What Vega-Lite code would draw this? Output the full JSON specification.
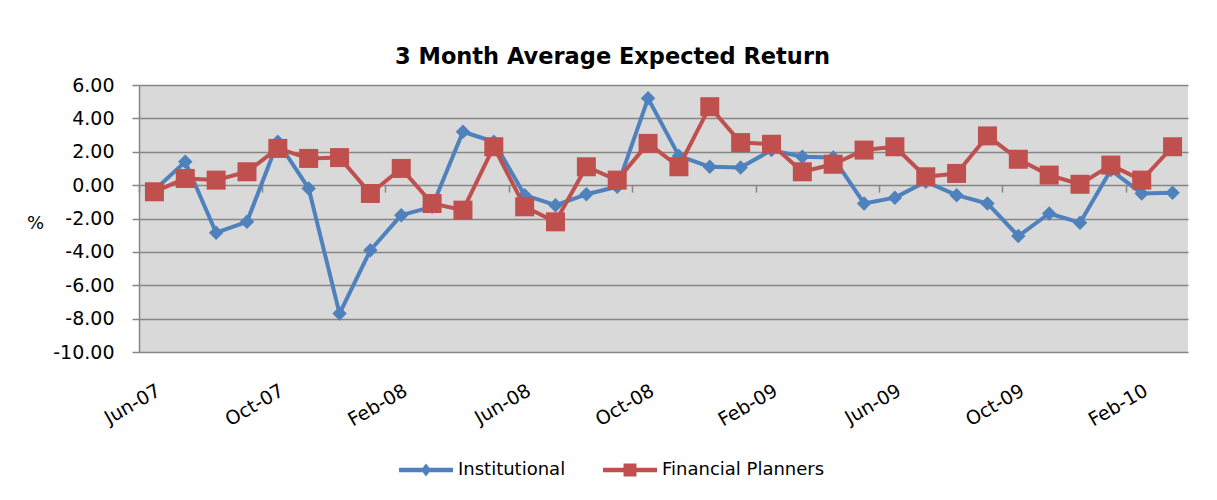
{
  "$schema": "https://vega.github.io/schema/vega-lite/v6.json",
  "width": 1049,
  "height": 267,
  "autosize": "none",
  "padding": {"left": 139, "top": 85, "right": 29, "bottom": 148},
  "background": "white",
  "config": {
    "font": "DejaVu Sans",
    "view": {"fill": "#D9D9D9", "stroke": null}
  },
  "title": {
    "text": "3 Month Average Expected Return",
    "font": "DejaVu Sans",
    "fontSize": 22.5,
    "fontWeight": "bold",
    "color": "#000000",
    "anchor": "middle",
    "frame": "group",
    "baseline": "alphabetic",
    "offset": -10,
    "dx": -51
  },
  "data": {
    "values": [
      {"m": "Jun-07", "s": "Institutional", "v": -0.3},
      {"m": "Jul-07", "s": "Institutional", "v": 1.4},
      {"m": "Aug-07", "s": "Institutional", "v": -2.85},
      {"m": "Sep-07", "s": "Institutional", "v": -2.2},
      {"m": "Oct-07", "s": "Institutional", "v": 2.6},
      {"m": "Nov-07", "s": "Institutional", "v": -0.2},
      {"m": "Dec-07", "s": "Institutional", "v": -7.7},
      {"m": "Jan-08", "s": "Institutional", "v": -3.9},
      {"m": "Feb-08", "s": "Institutional", "v": -1.8},
      {"m": "Mar-08", "s": "Institutional", "v": -1.3},
      {"m": "Apr-08", "s": "Institutional", "v": 3.2},
      {"m": "May-08", "s": "Institutional", "v": 2.6},
      {"m": "Jun-08", "s": "Institutional", "v": -0.6},
      {"m": "Jul-08", "s": "Institutional", "v": -1.2},
      {"m": "Aug-08", "s": "Institutional", "v": -0.55},
      {"m": "Sep-08", "s": "Institutional", "v": -0.1},
      {"m": "Oct-08", "s": "Institutional", "v": 5.2},
      {"m": "Nov-08", "s": "Institutional", "v": 1.75},
      {"m": "Dec-08", "s": "Institutional", "v": 1.1},
      {"m": "Jan-09", "s": "Institutional", "v": 1.05},
      {"m": "Feb-09", "s": "Institutional", "v": 2.1},
      {"m": "Mar-09", "s": "Institutional", "v": 1.7},
      {"m": "Apr-09", "s": "Institutional", "v": 1.65},
      {"m": "May-09", "s": "Institutional", "v": -1.1},
      {"m": "Jun-09", "s": "Institutional", "v": -0.75},
      {"m": "Jul-09", "s": "Institutional", "v": 0.2},
      {"m": "Aug-09", "s": "Institutional", "v": -0.6},
      {"m": "Sep-09", "s": "Institutional", "v": -1.1},
      {"m": "Oct-09", "s": "Institutional", "v": -3.05},
      {"m": "Nov-09", "s": "Institutional", "v": -1.7},
      {"m": "Dec-09", "s": "Institutional", "v": -2.25},
      {"m": "Jan-10", "s": "Institutional", "v": 0.9},
      {"m": "Feb-10", "s": "Institutional", "v": -0.5},
      {"m": "Mar-10", "s": "Institutional", "v": -0.45},
      {"m": "Jun-07", "s": "Financial Planners", "v": -0.4},
      {"m": "Jul-07", "s": "Financial Planners", "v": 0.4},
      {"m": "Aug-07", "s": "Financial Planners", "v": 0.3},
      {"m": "Sep-07", "s": "Financial Planners", "v": 0.8},
      {"m": "Oct-07", "s": "Financial Planners", "v": 2.2},
      {"m": "Nov-07", "s": "Financial Planners", "v": 1.6},
      {"m": "Dec-07", "s": "Financial Planners", "v": 1.65},
      {"m": "Jan-08", "s": "Financial Planners", "v": -0.5},
      {"m": "Feb-08", "s": "Financial Planners", "v": 1.0},
      {"m": "Mar-08", "s": "Financial Planners", "v": -1.1},
      {"m": "Apr-08", "s": "Financial Planners", "v": -1.5},
      {"m": "May-08", "s": "Financial Planners", "v": 2.3},
      {"m": "Jun-08", "s": "Financial Planners", "v": -1.3},
      {"m": "Jul-08", "s": "Financial Planners", "v": -2.2},
      {"m": "Aug-08", "s": "Financial Planners", "v": 1.1},
      {"m": "Sep-08", "s": "Financial Planners", "v": 0.3},
      {"m": "Oct-08", "s": "Financial Planners", "v": 2.5},
      {"m": "Nov-08", "s": "Financial Planners", "v": 1.1},
      {"m": "Dec-08", "s": "Financial Planners", "v": 4.7},
      {"m": "Jan-09", "s": "Financial Planners", "v": 2.55},
      {"m": "Feb-09", "s": "Financial Planners", "v": 2.45},
      {"m": "Mar-09", "s": "Financial Planners", "v": 0.8},
      {"m": "Apr-09", "s": "Financial Planners", "v": 1.25},
      {"m": "May-09", "s": "Financial Planners", "v": 2.1},
      {"m": "Jun-09", "s": "Financial Planners", "v": 2.3},
      {"m": "Jul-09", "s": "Financial Planners", "v": 0.5},
      {"m": "Aug-09", "s": "Financial Planners", "v": 0.7},
      {"m": "Sep-09", "s": "Financial Planners", "v": 2.95},
      {"m": "Oct-09", "s": "Financial Planners", "v": 1.55},
      {"m": "Nov-09", "s": "Financial Planners", "v": 0.6},
      {"m": "Dec-09", "s": "Financial Planners", "v": 0.05},
      {"m": "Jan-10", "s": "Financial Planners", "v": 1.2},
      {"m": "Feb-10", "s": "Financial Planners", "v": 0.3},
      {"m": "Mar-10", "s": "Financial Planners", "v": 2.3}
    ]
  },
  "resolve": {"axis": {"x": "independent"}},
  "encoding": {
    "y": {
      "field": "v", "type": "quantitative",
      "scale": {"domain": [-10, 6], "nice": false, "zero": false},
      "axis": {
        "values": [-10, -8, -6, -4, -2, 0, 2, 4, 6],
        "tickCount": 12,
        "labelOverlap": false,
        "labelExpr": "replace(format(datum.value, '.2f'), '\u2212', '-')",
        "labelFont": "DejaVu Sans",
        "labelFontSize": 19,
        "labelColor": "#000000",
        "labelPadding": 18,
        "tickSize": 7,
        "tickColor": "#868686",
        "tickWidth": 1.5,
        "domainColor": "#868686",
        "domainWidth": 1.5,
        "grid": true,
        "gridColor": "#868686",
        "gridWidth": 1.5,
        "title": "%",
        "titleAngle": 0,
        "titleX": -104,
        "titleY": 143,
        "titleAlign": "center",
        "titleBaseline": "alphabetic",
        "titleFont": "DejaVu Sans",
        "titleFontSize": 18,
        "titleFontWeight": "normal",
        "titleColor": "#000000"
      }
    }
  },
  "layer": [
    {
      "transform": [{"filter": "datum.s === 'Institutional'"}],
      "mark": {"type": "line", "color": "#4F81BD", "strokeWidth": 4, "strokeJoin": "round", "strokeCap": "round"},
      "encoding": {
        "x": {
          "field": "m", "type": "ordinal",
          "scale": {"type": "band", "paddingInner": 0, "paddingOuter": 0,
            "domain": ["Jun-07","Jul-07","Aug-07","Sep-07","Oct-07","Nov-07","Dec-07","Jan-08","Feb-08","Mar-08","Apr-08","May-08","Jun-08","Jul-08","Aug-08","Sep-08","Oct-08","Nov-08","Dec-08","Jan-09","Feb-09","Mar-09","Apr-09","May-09","Jun-09","Jul-09","Aug-09","Sep-09","Oct-09","Nov-09","Dec-09","Jan-10","Feb-10","Mar-10"]},
          "axis": {
            "orient": "bottom",
            "title": null,
            "values": ["Jun-07","Oct-07","Feb-08","Jun-08","Oct-08","Feb-09","Jun-09","Oct-09","Feb-10"],
            "ticks": false,
            "domain": false,
            "grid": false,
            "labelAngle": -30,
            "labelAlign": "right",
            "labelBaseline": "top",
            "labelPadding": 29,
            "labelDx": -6,
            "labelFont": "DejaVu Sans",
            "labelFontSize": 19,
            "labelColor": "#000000",
            "labelOverlap": false
          }
        }
      }
    },
    {
      "transform": [{"filter": "datum.s === 'Institutional'"}],
      "mark": {"type": "point", "shape": "diamond", "filled": true, "size": 210, "opacity": 1, "strokeWidth": 0},
      "encoding": {
        "x": {
          "field": "m", "type": "ordinal",
          "axis": {
            "orient": "bottom",
            "offset": -166.875,
            "title": null,
            "values": ["Jun-07","Oct-07","Feb-08","Jun-08","Oct-08","Feb-09","Jun-09","Oct-09","Feb-10"],
            "bandPosition": 0,
            "labels": false,
            "ticks": true,
            "tickSize": 7,
            "tickColor": "#868686",
            "tickWidth": 1.5,
            "domain": false,
            "grid": false
          }
        },
        "color": {
          "field": "s", "type": "nominal",
          "scale": {"domain": ["Institutional", "Financial Planners"], "range": ["#4F81BD", "#C0504D"]},
          "legend": {
            "orient": "none",
            "legendX": 260,
            "legendY": 358,
            "direction": "horizontal",
            "title": null,
            "padding": 0,
            "symbolSize": 2916,
            "symbolStrokeWidth": 0,
            "symbolType": {"expr": "datum.value === 'Institutional' ? 'M-1,-0.083L-0.121,-0.083L0,-0.24L0.121,-0.083L1,-0.083L1,0.083L0.121,0.083L0,0.24L-0.121,0.083L-1,0.083Z' : 'M-1,-0.083L-0.24,-0.083L-0.24,-0.24L0.24,-0.24L0.24,-0.083L1,-0.083L1,0.083L0.24,0.083L0.24,0.24L-0.24,0.24L-0.24,0.083L-1,0.083Z'"},
            "labelFont": "DejaVu Sans",
            "labelFontSize": 18,
            "labelColor": "#000000",
            "labelOffset": 5,
            "labelLimit": 500,
            "columnPadding": 37
          }
        }
      }
    },
    {
      "transform": [{"filter": "datum.s === 'Financial Planners'"}],
      "mark": {"type": "line", "color": "#C0504D", "strokeWidth": 4, "strokeJoin": "round", "strokeCap": "round"},
      "encoding": {
        "x": {"field": "m", "type": "ordinal", "axis": null}
      }
    },
    {
      "transform": [{"filter": "datum.s === 'Financial Planners'"}],
      "mark": {"type": "point", "shape": "square", "filled": true, "size": 361, "opacity": 1, "strokeWidth": 0},
      "encoding": {
        "x": {"field": "m", "type": "ordinal", "axis": null},
        "color": {"field": "s", "type": "nominal"}
      }
    }
  ]
}
